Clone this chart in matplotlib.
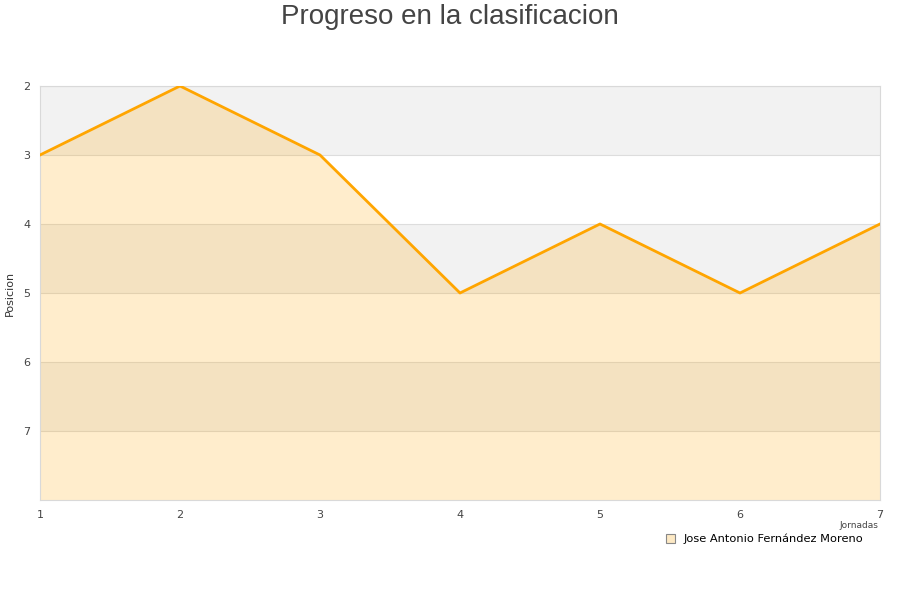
import matplotlib.pyplot as plt
from matplotlib.patches import Patch

jornadas = [1, 2, 3, 4, 5, 6, 7]
posicion = [3, 2, 3, 5, 4, 5, 4]
jugador = 'Jose Antonio Fernández Moreno'
yticks = [2, 3, 4, 5, 6, 7]

fig = plt.figure(figsize=(9, 6), dpi=100)
ax = fig.add_axes([40/900, 1 - 500/600, 840/900, 414/600])

# bandas alternas
for i, y in enumerate(range(2, 8)):
    if i % 2 == 0:
        ax.axhspan(y, y + 1, color='#f2f2f2', zorder=0, lw=0)
for y in yticks:
    ax.axhline(y, color='#dddddd', lw=0.8, zorder=1)

ax.fill_between(jornadas, posicion, 8, color='#ffa500', alpha=0.2, lw=0, zorder=2)
ax.plot(jornadas, posicion, color='#ffa500', lw=2, zorder=3)

ax.set_xlim(1, 7)
ax.set_ylim(8, 2)
ax.set_xticks(jornadas)
ax.set_yticks(yticks)
ax.tick_params(length=0, labelsize=8, colors='#444444')
ax.tick_params(axis='x', pad=7.5)
ax.tick_params(axis='y', pad=7)
for s in ax.spines.values():
    s.set_color('#d9d9d9')
ax.set_ylabel('Posicion', fontsize=8, color='#333333', labelpad=6)

fig.text(0.5, 1 - 4/600, 'Progreso en la clasificacion', ha='center', va='top',
         fontsize=20, color='#444444', family='Liberation Sans')
fig.text(878/900, 1 - 525/600, 'Jornadas', ha='right', va='center', fontsize=6.5, color='#444444')

h = Patch(facecolor='#fde9c4', edgecolor='#888888', lw=0.8)
leg = fig.legend([h], [jugador], loc='center left', bbox_to_anchor=(665/900, 1 - 539/600),
                 frameon=True, fontsize=8.2, handlelength=0.8, handleheight=0.8,
                 handletextpad=0.7, borderpad=0.1, borderaxespad=0)
leg.get_frame().set_facecolor('white')
leg.get_frame().set_edgecolor('white')
leg.get_frame().set_alpha(1)
leg.set_zorder(10)

fig.savefig('out.png', dpi=100)
